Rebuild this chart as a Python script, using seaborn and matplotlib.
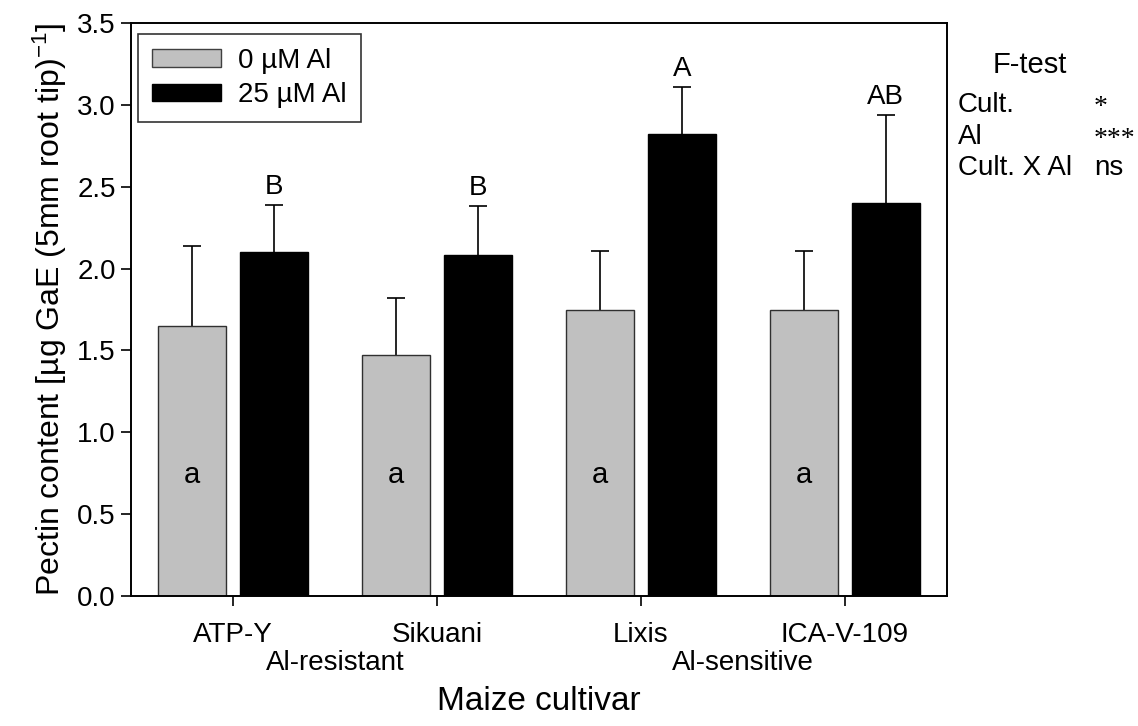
import matplotlib
matplotlib.use("Agg")
import matplotlib.pyplot as plt
import seaborn as sns
import pandas as pd
import numpy as np
from matplotlib.patches import Patch

cultivars = ["ATP-Y", "Sikuani", "Lixis", "ICA-V-109"]
treatments = ["0 µM Al", "25 µM Al"]
mean_0 = [1.65, 1.47, 1.75, 1.75]
err_0 = [0.49, 0.35, 0.36, 0.36]
mean_25 = [2.10, 2.08, 2.82, 2.40]
err_25 = [0.29, 0.30, 0.29, 0.54]
letters_0 = ["a", "a", "a", "a"]
letters_25 = ["B", "B", "A", "AB"]
groups = ["Al-resistant", "Al-sensitive"]
ftest_terms = ["Cult.", "Al", "Cult. X Al"]
ftest_sig = ["*", "***", "ns"]

sns.set_theme(style="white")
plt.rcParams["font.family"] = ["Liberation Sans", "DejaVu Sans"]
plt.rcParams["mathtext.fontset"] = "custom"
plt.rcParams["mathtext.rm"] = "Liberation Sans"
plt.rcParams["mathtext.it"] = "Liberation Sans"
plt.rcParams["text.color"] = "black"
plt.rcParams["axes.labelcolor"] = "black"
plt.rcParams["xtick.color"] = "black"
plt.rcParams["ytick.color"] = "black"

df = pd.DataFrame({
    "Cultivar": cultivars * 2,
    "Treatment": [treatments[0]] * 4 + [treatments[1]] * 4,
    "Value": mean_0 + mean_25,
})

fig = plt.figure(figsize=(11.38, 7.26), dpi=100)
ax = fig.add_axes([131 / 1138, 1 - 596 / 726, 816 / 1138, 573 / 726])

palette = {treatments[0]: "#c0c0c0", treatments[1]: "#000000"}
sns.barplot(data=df, x="Cultivar", y="Value", hue="Treatment", order=cultivars,
            hue_order=treatments, palette=palette, errorbar=None, gap=0.17,
            width=0.8, saturation=1, legend=False, ax=ax)

n = len(cultivars)
bars = ax.patches[:2 * n]
for i, p in enumerate(bars):
    p.set_edgecolor("#303030" if i < n else "#000000")
    p.set_linewidth(1.0)
    p.set_zorder(2)

# Error bars (upward only)
for i in range(n):
    for j, (means, errs) in enumerate([(mean_0, err_0), (mean_25, err_25)]):
        p = bars[j * n + i]
        cx = p.get_x() + p.get_width() / 2
        _, caps, _ = ax.errorbar(cx, means[i], yerr=[[0], [errs[i]]], fmt="none",
                                 ecolor="black", elinewidth=1.2, capsize=6.2,
                                 capthick=1.2, zorder=1)
        caps[0].set_visible(False)
        if j == 0:
            ax.text(cx, 0.74, letters_0[i], ha="center", va="center", fontsize=21)
        else:
            ax.text(cx, means[i] + errs[i] + 0.03, letters_25[i], ha="center",
                    va="bottom", fontsize=20)

ax.set_ylim(0, 3.5)
ax.set_xlim(-0.5, 3.5)
yt = np.arange(0, 3.51, 0.5)
ax.set_yticks(yt)
ax.set_yticklabels([f"{v:.1f}" for v in yt])
ax.tick_params(axis="both", which="major", direction="out", length=7, width=1.2,
               labelsize=20, bottom=True, left=True, top=False, right=False,
               colors="black")
ax.tick_params(axis="y", pad=4)
ax.tick_params(axis="x", pad=12)
for s in ax.spines.values():
    s.set_visible(True)
    s.set_color("black")
    s.set_linewidth(1.4)

ax.set_xlabel("")
ax.set_ylabel("Pectin content [µg GaE (5mm root tip)$^{-1}$]", fontsize=23,
              labelpad=6)

# Group labels below cultivar labels
trans = ax.get_xaxis_transform()
ax.text(0.5, -(663 - 596) / 573, groups[0], transform=trans, ha="center",
        va="center", fontsize=20)
ax.text(2.5, -(663 - 596) / 573, groups[1], transform=trans, ha="center",
        va="center", fontsize=20)
ax.text(1.5, -(702 - 596) / 573, "Maize cultivar", transform=trans, ha="center",
        va="center", fontsize=24)

handles = [Patch(facecolor="#c0c0c0", edgecolor="#404040", linewidth=1.0),
           Patch(facecolor="#000000", edgecolor="#000000")]
leg = ax.legend(handles, treatments, loc="upper left",
                bbox_to_anchor=(7 / 816, (596 - 34) / 573),
                fontsize=20, frameon=True, fancybox=False, edgecolor="black",
                handlelength=2.5, handleheight=0.6, borderpad=0.5,
                labelspacing=0.3, handletextpad=0.6, borderaxespad=0)
leg.get_frame().set_linewidth(1.2)

# F-test block
fig.text(1030 / 1138, 1 - 65 / 726, "F-test", ha="center", va="center", fontsize=21)
ys = [105, 137, 168]
for term, sig, y in zip(ftest_terms, ftest_sig, ys):
    fig.text(958 / 1138, 1 - y / 726, term, ha="left", va="center", fontsize=20)
    if sig == "ns":
        fig.text(1094 / 1138, 1 - y / 726, sig, ha="left", va="center", fontsize=20)
    else:
        fig.text(1094 / 1138, 1 - (y + 2) / 726, sig, ha="left",
                 va="center", fontsize=20, family=["Liberation Serif"])

fig.savefig("out.png", dpi=100)
